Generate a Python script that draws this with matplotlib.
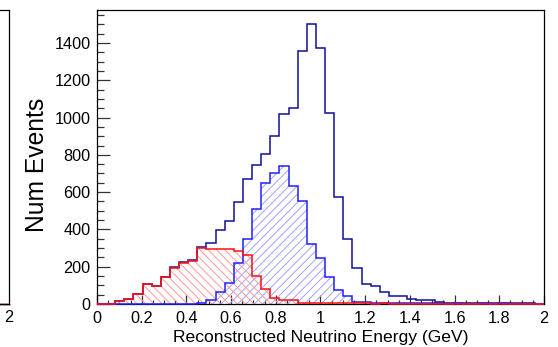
#Load packages
import numpy as np
import matplotlib.pyplot as plt
from matplotlib.ticker import MultipleLocator, FormatStrFormatter

plt.rcParams['font.family'] = ['Liberation Sans', 'DejaVu Sans']
plt.rcParams['hatch.linewidth'] = 0.7

# =============================================================================
# Histogram contents (49 bins between 0 and 2 GeV)
# =============================================================================
edges = np.linspace(0, 2, 50)

total = [0, 0, 16, 29, 54, 105, 98, 147, 200, 224,
         235, 307, 329, 397, 447, 549, 669, 748, 802, 900,
         1021, 1051, 1356, 1500, 1373, 1023, 572, 350, 191, 105,
         97, 66, 43, 45, 28, 21, 20, 12, 8, 7,
         6, 6, 5, 6, 5, 5, 4, 4, 0]

signal = [0, 0, 0, 0, 0, 0, 0, 0, 0, 0,
          0, 4, 21, 66, 111, 222, 350, 508, 647, 701,
          740, 633, 554, 324, 245, 143, 77, 43, 12, 12,
          6, 5, 5, 4, 4, 3, 3, 3, 2, 3,
          2, 2, 3, 2, 3, 2, 2, 2, 0]

background = [0, 0, 16, 29, 54, 105, 98, 147, 195, 222,
              229, 300, 293, 297, 293, 283, 263, 150, 79, 31,
              21, 20, 7, 7, 5, 8, 4, 6, 3, 5,
              2, 3, 1, 2, 0, 1, 0, 1, 0, 0,
              1, 0, 0, 1, 0, 0, 0, 0, 0]

# =============================================================================
# Figure
# =============================================================================
fig = plt.figure(figsize=(5.58, 3.47), dpi=100)

# cut-off neighbouring pad on the left
ax0 = fig.add_axes([-0.5, 0.1239, 0.5161, 0.8473])
ax0.set_xlim(0, 2)
ax0.set_ylim(0, 1)
ax0.set_yticks([])
ax0.set_xticks([2])
ax0.set_xticklabels(['2'])
ax0.tick_params(axis='x', length=0, pad=4.5, labelsize=11.7)
ax0.axhline(0, color='blue', lw=1.0, clip_on=False)
ax0.axhline(0, color='red', lw=1.0, clip_on=False)
for s in ax0.spines.values():
    s.set_linewidth(0.9)

ax = fig.add_axes([0.1738, 0.1239, 0.8011, 0.8473])

ax.stairs(total, edges, color='#10109a', lw=1.1, clip_on=False, zorder=3)

ax.stairs(signal, edges, fill=True, facecolor='none', edgecolor='#a0a0ff',
          linewidth=0, hatch='////', zorder=2)
ax.stairs(signal, edges, color='#2020ff', lw=1.1, clip_on=False, zorder=3)

ax.stairs(background, edges, fill=True, facecolor='none', edgecolor='#ff9a9a',
          linewidth=0, hatch='\\\\\\\\', zorder=2)
ax.stairs(background, edges, color='#ff1010', lw=1.1, clip_on=False, zorder=3)

ax.set_xlim(0, 2)
ax.set_ylim(0, 1577)

ax.xaxis.set_major_locator(MultipleLocator(0.2))
ax.xaxis.set_minor_locator(MultipleLocator(0.05))
ax.xaxis.set_major_formatter(FormatStrFormatter('%g'))
ax.yaxis.set_major_locator(MultipleLocator(200))
ax.yaxis.set_minor_locator(MultipleLocator(50))

ax.tick_params(axis='both', which='both', direction='in', top=False, right=False,
               width=0.9, color='#333333', labelsize=11.7)
ax.tick_params(axis='y', which='major', length=9, pad=4.5)
ax.tick_params(axis='y', which='minor', length=5)
ax.tick_params(axis='x', which='major', length=6.5, pad=5)
ax.tick_params(axis='x', which='minor', length=3.2)
for s in ax.spines.values():
    s.set_linewidth(0.9)

ax.set_xlabel('Reconstructed Neutrino Energy (GeV)', fontsize=12.6)
ax.xaxis.set_label_coords(0.5, -0.088)
ax.set_ylabel('Num Events', fontsize=17.7)
ax.yaxis.set_label_coords(-0.107, 0.473)

fig.savefig('out.png', dpi=100)
